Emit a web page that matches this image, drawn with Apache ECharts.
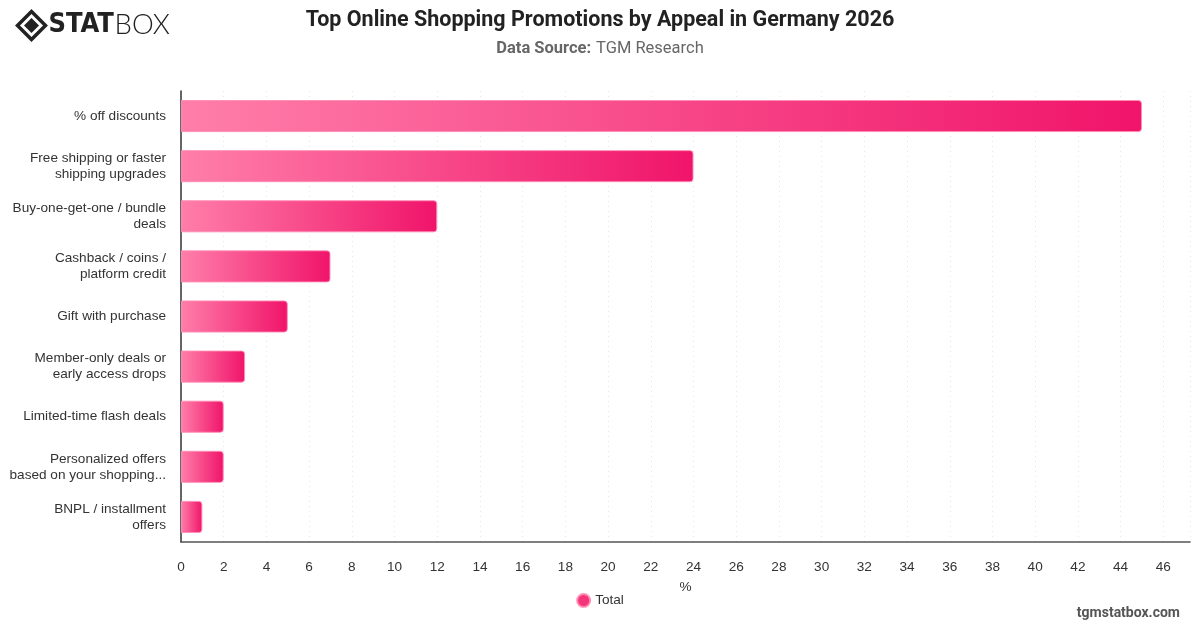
<!DOCTYPE html>
<html>
<head>
<meta charset="utf-8">
<script src="https://cdn.jsdelivr.net/npm/echarts@6/dist/echarts.min.js"></script>
<style>
  html, body { margin: 0; padding: 0; background: #fff; }
  #chart { width: 1200px; height: 628px; }
</style>
</head>
<body>
<div id="chart"></div>
<script>
const categories = [
  "% off discounts",
  "Free shipping or faster\nshipping upgrades",
  "Buy-one-get-one / bundle\ndeals",
  "Cashback / coins /\nplatform credit",
  "Gift with purchase",
  "Member-only deals or\nearly access drops",
  "Limited-time flash deals",
  "Personalized offers\nbased on your shopping...",
  "BNPL / installment\noffers"
];
const totalValues = [45, 24, 12, 7, 5, 3, 2, 2, 1];
const seriesName = "Total";

const font = "Roboto, 'Noto Sans', sans-serif";
const labelFont = "'Liberation Sans', Arial, sans-serif";

function barGradient() {
  return new echarts.graphic.LinearGradient(0, 0, 1, 0, [
    { offset: 0, color: "#ff7ea9" },
    { offset: 1, color: "#f0146a" }
  ]);
}

const chart = echarts.init(document.getElementById("chart"), null, { renderer: "canvas" });

chart.setOption({
  animation: false,
  backgroundColor: "#fff",
  title: [
    {
      text: "Top Online Shopping Promotions by Appeal in Germany 2026",
      left: "center",
      top: 5,
      textStyle: { fontFamily: font, fontSize: 21.5, fontWeight: "bold", color: "#222" }
    },
    {
      text: "{b|Data Source:} {n|TGM Research}",
      left: "center",
      top: 35,
      textStyle: {
        fontWeight: "normal",
        rich: {
          b: { fontFamily: font, fontSize: 16.5, fontWeight: "bold", color: "#666" },
          n: { fontFamily: font, fontSize: 16.5, fontWeight: "normal", color: "#666" }
        }
      }
    }
  ],
  legend: {
    bottom: 15,
    left: "center",
    icon: "circle",
    itemWidth: 13,
    itemHeight: 13,
    textStyle: { fontFamily: labelFont, fontSize: 13.6, color: "#333" },
    data: [{ name: seriesName, itemStyle: { color: "#f5357a" } }]
  },
  grid: { left: 181, right: 10, top: 91, bottom: 86 },
  xAxis: {
    type: "value",
    min: 0,
    max: 47.25,
    interval: 2,
    name: "%",
    nameLocation: "middle",
    nameGap: 38,
    nameTextStyle: { fontFamily: labelFont, fontSize: 13.6, color: "#333" },
    axisLine: { show: true, lineStyle: { color: "#555", width: 1.5 } },
    axisTick: { show: false },
    axisLabel: {
      margin: 18,
      fontFamily: labelFont,
      fontSize: 13.6,
      color: "#333",
      formatter: v => (Number.isInteger(v) ? String(v) : "")
    },
    splitLine: { show: true, lineStyle: { color: "#e6e6e6", type: [1, 4] } }
  },
  yAxis: {
    type: "category",
    inverse: true,
    data: categories,
    axisLine: { show: true, lineStyle: { color: "#333", width: 1.5 } },
    axisTick: { show: false },
    axisLabel: {
      margin: 15,
      fontFamily: labelFont,
      fontSize: 13.6,
      lineHeight: 16,
      padding: [3, 0, 0, 0],
      color: "#333"
    },
    splitLine: { show: false }
  },
  series: [
    {
      name: seriesName,
      type: "bar",
      data: totalValues,
      barWidth: "64%",
      itemStyle: {
        color: barGradient(),
        borderColor: "rgba(255,140,180,0.9)",
        borderWidth: 1,
        borderRadius: [0, 3, 3, 0]
      }
    }
  ],
  graphic: [
    {
      type: "group",
      left: 15,
      top: 9,
      children: [
        { type: "polygon", shape: { points: [[14, 0], [28, 14], [14, 28], [0, 14]] }, style: { fill: "none", stroke: "#222", lineWidth: 3.5 } },
        { type: "polygon", shape: { points: [[14, 6.5], [21.5, 14], [14, 21.5], [6.5, 14]] }, style: { fill: "#222" } },
        { type: "text", x: 31, y: 0, style: { text: "STAT", fontFamily: "'DejaVu Sans Condensed', 'DejaVu Sans', sans-serif", fontWeight: 900, fontSize: 27, fill: "#222" } },
        { type: "text", x: 97, y: 0, style: { text: "BOX", fontFamily: "Lato, sans-serif", fontWeight: 300, fontSize: 27.5, fill: "#222" } }
      ]
    },
    {
      type: "text",
      right: 20,
      bottom: 8,
      style: { text: "tgmstatbox.com", fontFamily: font, fontWeight: "bold", fontSize: 14, fill: "#555" }
    }
  ]
});
</script>
</body>
</html>
